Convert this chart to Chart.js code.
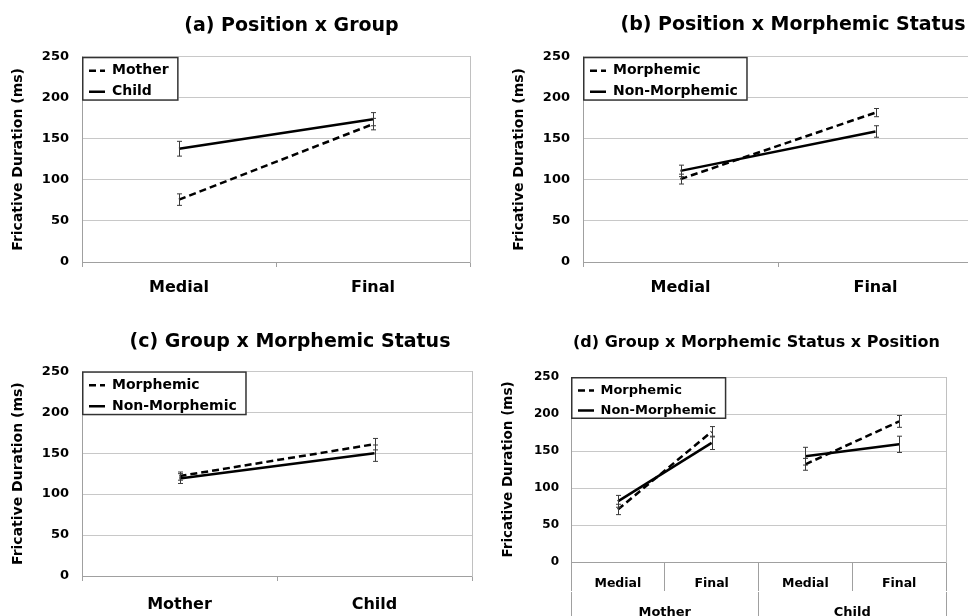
<!DOCTYPE html>
<html>
<head>
<meta charset="utf-8">
<script src="https://cdn.jsdelivr.net/npm/chart.js@4.4.0/dist/chart.umd.min.js"></script>
<style>
html, body { margin: 0; padding: 0; background: #fff; overflow: hidden; }
#wrap { position: relative; width: 968px; height: 616px; overflow: hidden; background: #fff; }
#wrap canvas { position: absolute; }
</style>
</head>
<body>
<div id="wrap">
  <canvas id="ca"></canvas>
  <canvas id="cb"></canvas>
  <canvas id="cc"></canvas>
  <canvas id="cd"></canvas>
</div>
<script>
// ---------------- DATA ----------------
const positionLabels = ['Medial', 'Final'];
const groupLabels = ['Mother', 'Child'];
const titles = [
  '(a) Position x Group',
  '(b) Position x Morphemic Status',
  '(c) Group x Morphemic Status',
  '(d) Group x Morphemic Status x Position'
];
const yAxisTitle = 'Fricative Duration (ms)';
const yMin = 0, yMax = 250, yStep = 50;

// (a) Position x Group
const aMother = [76, 168];
const aMotherErr = [7, 7];
const aChild = [138, 174];
const aChildErr = [9, 8];

// (b) Position x Morphemic Status
const bMorphemic = [101, 182];
const bMorphemicErr = [6, 5];
const bNonMorphemic = [111, 159];
const bNonMorphemicErr = [7, 7];

// (c) Group x Morphemic Status
const cMorphemic = [122, 161];
const cMorphemicErr = [5, 7];
const cNonMorphemic = [119, 150];
const cNonMorphemicErr = [6, 10];

// (d) Group x Morphemic Status x Position (Mother: Medial, Final | Child: Medial, Final)
const dPositions = ['Medial', 'Final', 'Medial', 'Final'];
const dMorphemic = [71, 176, 132, 190];
const dMorphemicErr = [7, 7, 8, 8];
const dNonMorphemic = [82, 161, 143, 159];
const dNonMorphemicErr = [8, 9, 12, 11];

// ---------------- STYLE / HELPERS ----------------
const FONT = "'DejaVu Sans', Verdana, sans-serif";
Chart.defaults.font.family = FONT;
Chart.defaults.font.weight = 'bold';
Chart.defaults.color = '#000';

const AXIS = '#a0a0a0';
const GRID = '#c8c8c8';
const FRAME = '#c0c0c0';

const errorBarPlugin = {
  id: 'errorBars',
  afterDatasetsDraw(chart) {
    const ctx = chart.ctx;
    const ys = chart.scales.y;
    chart.data.datasets.forEach((ds, i) => {
      if (!ds.errorBars) return;
      const meta = chart.getDatasetMeta(i);
      ctx.save();
      ctx.strokeStyle = '#3a3a3a';
      ctx.lineWidth = 1;
      meta.data.forEach((pt, j) => {
        const v = ds.data[j], e = ds.errorBars[j];
        if (v == null || e == null) return;
        const x = Math.round(pt.x) + 0.5;
        const y1 = ys.getPixelForValue(v + e);
        const y2 = ys.getPixelForValue(v - e);
        ctx.beginPath();
        ctx.moveTo(x, y1); ctx.lineTo(x, y2);
        ctx.moveTo(x - 2.5, y1); ctx.lineTo(x + 2.5, y1);
        ctx.moveTo(x - 2.5, y2); ctx.lineTo(x + 2.5, y2);
        ctx.stroke();
      });
      ctx.restore();
    });
  }
};

const legendFrame = {
  id: 'legendFrame',
  afterLayout(chart) {
    const lg = chart.legend;
    if (!lg) return;
    const ca = chart.chartArea;
    lg.top = ca.top;
    lg.left = ca.left;
    lg.bottom = ca.top + lg.height;
    lg.right = ca.left + lg.width;
  },
  beforeDatasetsDraw(chart, args, opts) {
    const lg = chart.legend;
    if (!lg || !lg.legendHitBoxes || !lg.legendHitBoxes.length) return;
    const ctx = chart.ctx;
    const ca = chart.chartArea;
    let x1 = 0, y1 = 0;
    lg.legendHitBoxes.forEach(h => {
      x1 = Math.max(x1, h.left + h.width);
      y1 = Math.max(y1, h.top + h.height);
    });
    x1 += opts.padRight || 10;
    y1 += opts.padBottom || 2;
    const x0 = ca.left, y0 = ca.top;
    ctx.save();
    ctx.fillStyle = '#fff';
    ctx.fillRect(x0, y0, x1 - x0, y1 - y0);
    ctx.strokeStyle = '#333';
    ctx.lineWidth = 1.5;
    ctx.strokeRect(x0 + 0.75, y0 + 0.75, x1 - x0 - 1.5, y1 - y0 - 1.5);
    ctx.restore();
    lg.draw();
  }
};

function legendLabels(chart) {
  const items = Chart.defaults.plugins.legend.labels.generateLabels(chart);
  items.forEach(it => {
    const ds = chart.data.datasets[it.datasetIndex];
    it.lineDash = ds.borderDash;
    it.lineWidth = ds.borderWidth;
    it.strokeStyle = ds.borderColor;
    it.fillStyle = ds.borderColor;
    it.pointStyle = 'line';
  });
  return items;
}

function series(label, data, err, dashed) {
  return {
    label, data, errorBars: err,
    borderColor: '#000', backgroundColor: '#000',
    borderWidth: 2.5, borderDash: dashed ? [7, 4] : [],
    pointRadius: 0, pointHoverRadius: 0, tension: 0, fill: false,
    xAxisID: 'x', yAxisID: 'y'
  };
}

function makePanel(id, g, title, labels, datasets, groups) {
  const cv = document.getElementById(id);
  cv.width = g.w; cv.height = g.h;
  cv.style.left = g.left + 'px'; cv.style.top = g.top + 'px';
  cv.style.width = g.w + 'px'; cv.style.height = g.h + 'px';

  const scales = {
    y: {
      type: 'linear', position: 'left', min: yMin, max: yMax,
      ticks: { stepSize: yStep, padding: g.tickPad, font: { size: g.tickSize, weight: 'bold' }, color: '#000' },
      grid: { color: GRID, lineWidth: 1, drawTicks: false },
      border: { display: true, color: AXIS, width: 1 },
      title: { display: true, text: yAxisTitle, color: '#000',
               font: { size: g.yTitleSize, weight: 'bold' }, padding: { top: g.yTitlePad, bottom: 0 } },
      afterFit(s) { s.width = g.yWidth; }
    },
    x: {
      type: 'category', position: 'bottom', offset: true, weight: 0,
      ticks: { padding: g.xLabelPad, maxRotation: 0, autoSkip: false, font: { size: g.xLabelSize, weight: 'bold' }, color: '#000' },
      grid: { display: true, offset: true, drawOnChartArea: false, drawTicks: true, tickLength: g.xTickLen, tickColor: AXIS, color: AXIS },
      border: { display: true, color: AXIS, width: 1 },
      afterFit(s) { s.height = g.xHeight; }
    },
    yR: {
      type: 'linear', position: 'right', display: true,
      grid: { display: false, drawOnChartArea: false, drawTicks: false },
      ticks: { display: false },
      border: { display: true, color: FRAME, width: 1 },
      afterFit(s) { s.width = g.rightWidth; }
    }
  };
  if (groups) {
    scales.x2 = {
      type: 'category', position: 'bottom', offset: true, weight: 1, labels: groups,
      ticks: { padding: g.x2LabelPad, maxRotation: 0, autoSkip: false, font: { size: g.x2LabelSize, weight: 'bold' }, color: '#000' },
      grid: { display: true, offset: true, drawOnChartArea: false, drawTicks: true, tickLength: g.x2TickLen, tickColor: AXIS, color: AXIS },
      border: { display: false },
      afterFit(s) { s.height = g.x2Height; }
    };
  }

  return new Chart(cv, {
    type: 'line',
    data: { labels, datasets },
    options: {
      responsive: false, devicePixelRatio: 1, animation: false,
      layout: { padding: 0 },
      plugins: {
        title: { display: true, text: title, color: '#000',
                 font: { size: g.titleSize, weight: 'bold' },
                 padding: { top: g.titlePadTop, bottom: g.titlePadBottom } },
        legend: {
          display: true, position: 'chartArea', align: 'start',
          labels: { usePointStyle: true, pointStyle: 'line', pointStyleWidth: 16,
                    color: '#000', padding: g.legendPad, generateLabels: legendLabels,
                    font: { size: g.legendSize, weight: 'bold' } }
        },
        tooltip: { enabled: false },
        legendFrame: { padRight: g.legendPadRight, padBottom: 2 }
      },
      scales
    },
    plugins: [errorBarPlugin, legendFrame]
  });
}

// ---------------- PANELS ----------------
const baseGeo = {
  titleSize: 19, tickSize: 13, yTitleSize: 14, xLabelSize: 16, legendSize: 14,
  tickPad: 13, xTickLen: 5, legendPad: 7, legendPadRight: 10
};

makePanel('ca', Object.assign({}, baseGeo, {
  left: 0, top: 0, w: 583, h: 308,
  yWidth: 82, rightWidth: 113, xHeight: 46,
  titlePadTop: 15, titlePadBottom: 19, yTitlePad: 9.6, xLabelPad: 11
}), titles[0], positionLabels, [
  series('Mother', aMother, aMotherErr, true),
  series('Child', aChild, aChildErr, false)
]);

makePanel('cb', Object.assign({}, baseGeo, {
  left: 484, top: 0, w: 618, h: 308,
  yWidth: 99, rightWidth: 129, xHeight: 46,
  titlePadTop: 14, titlePadBottom: 20, yTitlePad: 26.6, xLabelPad: 11
}), titles[1], positionLabels, [
  series('Morphemic', bMorphemic, bMorphemicErr, true),
  series('Non-Morphemic', bNonMorphemic, bNonMorphemicErr, false)
]);

makePanel('cc', Object.assign({}, baseGeo, {
  left: 0, top: 308, w: 580, h: 308,
  yWidth: 82, rightWidth: 108, xHeight: 40,
  titlePadTop: 22.5, titlePadBottom: 18, yTitlePad: 9.6, xLabelPad: 14
}), titles[2], groupLabels, [
  series('Morphemic', cMorphemic, cMorphemicErr, true),
  series('Non-Morphemic', cNonMorphemic, cNonMorphemicErr, false)
]);

const breakIndex = positionLabels.length - 1;
const dDatasets = [
  series('Morphemic', dMorphemic, dMorphemicErr, true),
  series('Non-Morphemic', dNonMorphemic, dNonMorphemicErr, false)
];
dDatasets.forEach(ds => {
  ds.segment = { borderColor: c => (c.p0DataIndex % positionLabels.length === breakIndex ? 'rgba(0,0,0,0)' : undefined) };
});
makePanel('cd', Object.assign({}, baseGeo, {
  left: 484, top: 308, w: 545, h: 340,
  titleSize: 16, tickSize: 12, yTitleSize: 13.5, xLabelSize: 12.5, legendSize: 13,
  tickPad: 12, yWidth: 87, rightWidth: 83, xHeight: 30, xTickLen: 29,
  titlePadTop: 25.4, titlePadBottom: 24.4, yTitlePad: 15.9, xLabelPad: -14.5,
  x2Height: 56, x2TickLen: 60, x2LabelPad: -47, x2LabelSize: 13
}), titles[3], dPositions, dDatasets, groupLabels);
</script>
</body>
</html>
